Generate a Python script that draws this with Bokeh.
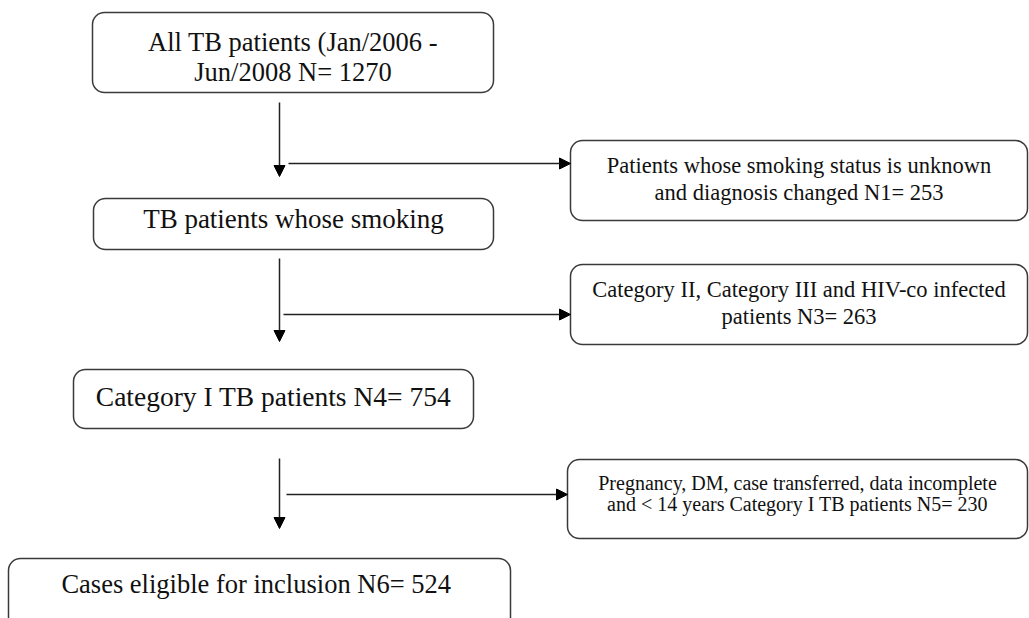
from bokeh.plotting import figure
from bokeh.models import Range1d, Arrow, NormalHead, ColumnDataSource
from bokeh.core.properties import value
from bokeh.embed import file_html
from bokeh.resources import INLINE

# ---- content ----
box_labels = [
    ["All TB patients (Jan/2006 -", "Jun/2008 N= 1270"],
    ["TB patients whose smoking"],
    ["Category I TB patients N4= 754"],
    ["Cases eligible for inclusion  N6= 524"],
]
side_labels = [
    ["Patients whose smoking status is unknown", "and diagnosis changed N1= 253"],
    ["Category II, Category III and HIV-co infected", "patients N3= 263"],
    ["Pregnancy, DM, case transferred, data incomplete", "and < 14 years Category I TB patients N5= 230"],
]

# ---- layout (screen pixels) ----
main_boxes = [  # left, right, top, bottom, font size, line ys
    (92, 493, 12, 92, "26.5px", [41, 71]),
    (93, 493, 198, 249, "27px", [218]),
    (73, 473, 369, 428, "27.5px", [396]),
    (8, 510, 558, 660, "26.5px", [583]),
]
side_boxes = [
    (570, 1027, 140, 220, "22.5px", [165, 192]),
    (570, 1027, 264, 344, "22.5px", [289, 316]),
    (567, 1027, 459, 538, "20px", [482, 503]),
]
# vertical arrows: x, y0, y1 ; branch: y, x0, x1
vert = [(279, 102, 176), (279, 258, 341), (279, 458, 528)]
branch = [(163, 288, 570), (314, 283, 570), (494, 286, 567)]

W, H = 1029, 618
p = figure(width=W, height=H, x_range=Range1d(0, W), y_range=Range1d(H, 0),
           output_backend="svg", toolbar_location=None, min_border=0)
p.axis.visible = False
p.grid.visible = False
p.outline_line_color = None
p.background_fill_color = "white"

font = value("Liberation Serif")
edge = "#3a3a3a"

for (l, r, t, b, fs, ys), lines in zip(main_boxes + side_boxes, box_labels + side_labels):
    p.quad(left=l, right=r, top=t, bottom=b, fill_color="white", line_color=edge,
           line_width=1.5, border_radius=12)
    cx = (l + r) / 2
    src = ColumnDataSource(dict(x=[cx] * len(lines), y=ys, t=lines))
    p.text(x="x", y="y", text="t", source=src, text_font=font, text_font_size=fs,
           text_align="center", text_baseline="middle", text_color="#111111")

for x, y0, y1 in vert:
    p.add_layout(Arrow(end=NormalHead(size=11, fill_color="black", line_color="black"),
                       x_start=x, y_start=y0, x_end=x, y_end=y1,
                       line_color="#222222", line_width=1.5))
for y, x0, x1 in branch:
    p.add_layout(Arrow(end=NormalHead(size=11, fill_color="black", line_color="black"),
                       x_start=x0, y_start=y, x_end=x1, y_end=y,
                       line_color="#222222", line_width=1.5))

open("out.html", "w").write(file_html(p, INLINE))
